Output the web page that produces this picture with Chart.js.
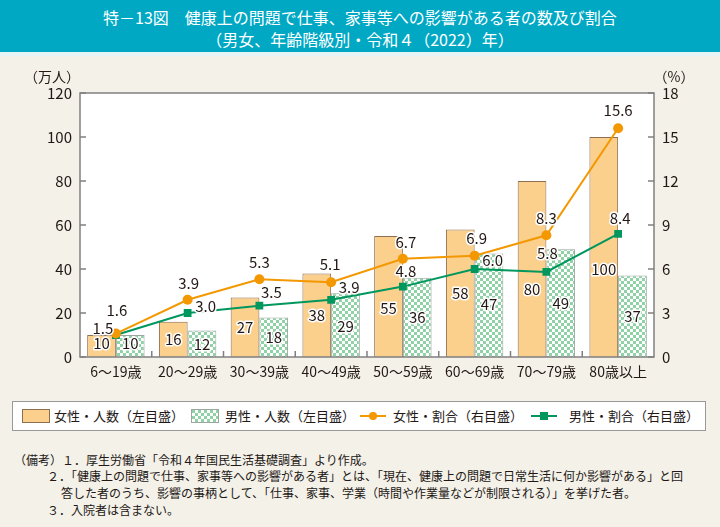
<!DOCTYPE html>
<html lang="ja">
<head>
<meta charset="utf-8">
<script src="https://cdn.jsdelivr.net/npm/chart.js@4"></script>
<style>
  body { margin: 0; width: 720px; height: 527px; background: #f4f1e9; font-family: "Noto Sans CJK JP", "Noto Sans", sans-serif; color: #231815; position: relative; overflow: hidden; }
  #title { position: absolute; left: 0; top: 0; width: 720px; background: #00a8c4; color: #fff; text-align: center; font-size: 16px; line-height: 22px; padding-top: 6px; box-sizing: border-box; border-bottom: 4px solid #e6f4f6; height: 56px; }
  #wrap { position: absolute; left: 0; top: 56px; width: 720px; height: 334px; }
  #legend { position: absolute; left: 12px; top: 401px; width: 694px; height: 30px; background: #fff; border: 1px solid #999; box-sizing: border-box; font-size: 13px; }
  .item { position: absolute; top: 5px; line-height: 18px; white-space: nowrap; }
  .sw { position: absolute; top: 7px; width: 28px; height: 14px; box-sizing: border-box; }
  .ln { position: absolute; top: 13px; width: 26px; height: 2px; }
  .mk { position: absolute; }
  #notes { position: absolute; left: 0; top: 452px; font-size: 12px; line-height: 16px; }
  #notes div { position: absolute; white-space: nowrap; }
</style>
</head>
<body>
<div id="title">特－13図　健康上の問題で仕事、家事等への影響がある者の数及び割合<br>（男女、年齢階級別・令和４（2022）年）</div>
<div id="wrap"><canvas id="chart"></canvas></div>
<div id="legend">
  <div class="sw" style="left:9px;background:#fbcf8c;border:1px solid #8c6e50;"></div>
  <div class="item" style="left:41px;">女性・人数（左目盛）</div>
  <div class="sw" id="malesw" style="left:178px;border:1px solid #9aa69e;"></div>
  <div class="item" style="left:212px;">男性・人数（左目盛）</div>
  <div class="ln" style="left:347px;background:#f39800;"></div>
  <div class="mk" style="left:356px;top:10px;width:8px;height:8px;border-radius:50%;background:#f39800;"></div>
  <div class="item" style="left:380px;">女性・割合（右目盛）</div>
  <div class="ln" style="left:518px;background:#00975f;"></div>
  <div class="mk" style="left:527px;top:10px;width:8px;height:8px;background:#00975f;"></div>
  <div class="item" style="left:556px;">男性・割合（右目盛）</div>
</div>
<div id="notes">
  <div style="left:14px;top:0;">（備考）１．厚生労働省「令和４年国民生活基礎調査」より作成。</div>
  <div style="left:47px;top:16px;">２．「健康上の問題で仕事、家事等への影響がある者」とは、「現在、健康上の問題で日常生活に何か影響がある」と回</div>
  <div style="left:61px;top:33px;">答した者のうち、影響の事柄として、「仕事、家事、学業（時間や作業量などが制限される）」を挙げた者。</div>
  <div style="left:47px;top:50px;">３．入院者は含まない。</div>
</div>
<script>
// ====== データ ======
const categories = ["6～19歳", "20～29歳", "30～39歳", "40～49歳", "50～59歳", "60～69歳", "70～79歳", "80歳以上"];
const femaleCount = [10, 16, 27, 38, 55, 58, 80, 100];
const maleCount   = [10, 12, 18, 29, 36, 47, 49, 37];
const femaleRate  = [1.6, 3.9, 5.3, 5.1, 6.7, 6.9, 8.3, 15.6];
const maleRate    = [1.5, 3.0, 3.5, 3.9, 4.8, 6.0, 5.8, 8.4];
const leftTicks   = [0, 20, 40, 60, 80, 100, 120];
const rightTicks  = [0, 3, 6, 9, 12, 15, 18];

// ラベル位置（左目盛の値で指定）
const femaleLabelAt = [6.4, 8.2, 13.6, 19, 22, 29, 31, 40];
const maleLabelAt   = [6.4, 5.9, 9.1, 14.1, 18.2, 24.1, 24.5, 18.6];
// 割合ラベルのずれ（px）
const femaleRateDx = [1, 1, 0, -1, 3, 2, 0, 0];
const femaleRateDy = [-23, -17, -17, -18, -16, -18, -17, -18];
const maleRateDx   = [-13, 18, 12, 18, 3, 18, 1, 2];
const maleRateDy   = [-7, -7, -13, -13, -15, -9, -19, -16];

const ORANGE = "#f39800";
const GREEN  = "#00975f";
const INK    = "#231815";
const FONT   = '"Noto Sans CJK JP", "Noto Sans", sans-serif';

// 男性のチェック柄
function makeChecker() {
  const c = document.createElement("canvas");
  c.width = 6; c.height = 6;
  const g = c.getContext("2d");
  g.fillStyle = "#ffffff"; g.fillRect(0, 0, 6, 6);
  g.fillStyle = "#8fd2a5";
  g.fillRect(0, 0, 3, 3); g.fillRect(3, 3, 3, 3);
  return c;
}
const checker = makeChecker();
document.getElementById("malesw").style.background = "url(" + checker.toDataURL() + ")";

// ====== 描画用プラグイン ======
const framePlugin = {
  id: "frame",
  beforeDatasetsDraw(chart) {
    const { ctx, chartArea: a } = chart;
    ctx.save();
    ctx.fillStyle = "#fff";
    ctx.fillRect(a.left, a.top, a.right - a.left, a.bottom - a.top);
    ctx.restore();
  },
  afterDatasetsDraw(chart) {
    const { ctx, chartArea: a, scales } = chart;
    ctx.save();
    ctx.strokeStyle = "#808080";
    ctx.lineWidth = 1.5;
    ctx.strokeRect(a.left, a.top, a.right - a.left, a.bottom - a.top);
    // 内向きの目盛線
    ctx.beginPath();
    leftTicks.forEach(v => {
      const y = scales.y.getPixelForValue(v);
      ctx.moveTo(a.left, y); ctx.lineTo(a.left + 6, y);
    });
    rightTicks.forEach(v => {
      const y = scales.y2.getPixelForValue(v);
      ctx.moveTo(a.right, y); ctx.lineTo(a.right - 6, y);
    });
    const step = (a.right - a.left) / categories.length;
    for (let i = 1; i < categories.length; i++) {
      const x = a.left + step * i;
      ctx.moveTo(x, a.bottom); ctx.lineTo(x, a.bottom - 6);
    }
    ctx.stroke();

    // 軸の単位
    ctx.fillStyle = INK;
    ctx.font = "14px " + FONT;
    ctx.textBaseline = "middle";
    ctx.textAlign = "center";
    ctx.fillText("（万人）", 52, 21);
    ctx.fillText("（%）", 674, 21);

    // 数値ラベル
    ctx.font = "15px " + FONT;
    ctx.lineJoin = "round";
    function label(text, x, y) {
      ctx.strokeStyle = "#fff";
      ctx.lineWidth = 3;
      ctx.strokeText(text, x, y);
      ctx.fillStyle = INK;
      ctx.fillText(text, x, y);
    }
    const mF = chart.getDatasetMeta(0), mM = chart.getDatasetMeta(1);
    const lF = chart.getDatasetMeta(2), lM = chart.getDatasetMeta(3);
    categories.forEach((c, i) => {
      label(String(femaleCount[i]), mF.data[i].x, scales.y.getPixelForValue(femaleLabelAt[i]));
      label(String(maleCount[i]), mM.data[i].x, scales.y.getPixelForValue(maleLabelAt[i]));
      label(femaleRate[i].toFixed(1), lF.data[i].x + femaleRateDx[i], lF.data[i].y + femaleRateDy[i]);
      label(maleRate[i].toFixed(1), lM.data[i].x + maleRateDx[i], lM.data[i].y + maleRateDy[i]);
    });
    ctx.restore();
  }
};

// ====== グラフ ======
new Chart(document.getElementById("chart"), {
  data: {
    labels: categories,
    datasets: [
      { type: "bar", label: "女性・人数（左目盛）", data: femaleCount, yAxisID: "y",
        backgroundColor: "#fbcf8c", borderColor: "#8c6e50", borderWidth: 1,
        barPercentage: 1, categoryPercentage: 0.8, order: 2 },
      { type: "bar", label: "男性・人数（左目盛）", data: maleCount, yAxisID: "y",
        backgroundColor: ctx => ctx.chart.ctx.createPattern(checker, "repeat"),
        borderColor: "#9aa69e", borderWidth: 1,
        barPercentage: 1, categoryPercentage: 0.8, order: 2 },
      { type: "line", label: "女性・割合（右目盛）", data: femaleRate, yAxisID: "y2",
        borderColor: ORANGE, backgroundColor: ORANGE, borderWidth: 2,
        pointStyle: "circle", pointRadius: 5, pointBorderWidth: 0, tension: 0, order: 1 },
      { type: "line", label: "男性・割合（右目盛）", data: maleRate, yAxisID: "y2",
        borderColor: GREEN, backgroundColor: GREEN, borderWidth: 2,
        pointStyle: "rect", pointRadius: 5.5, pointBorderWidth: 0, tension: 0, order: 1 }
    ]
  },
  options: {
    responsive: true,
    maintainAspectRatio: false,
    animation: false,
    layout: { padding: { top: 37, left: 0, right: 0, bottom: 0 } },
    plugins: { legend: { display: false }, tooltip: { enabled: false } },
    scales: {
      x: {
        grid: { display: false, drawTicks: false },
        border: { display: false },
        ticks: { color: INK, font: { family: FONT, size: 14 }, padding: 6, maxRotation: 0, autoSkip: false },
        afterFit(s) { s.height = 33; }
      },
      y: {
        position: "left", min: 0, max: 120,
        afterBuildTicks(s) { s.ticks = leftTicks.map(v => ({ value: v })); },
        grid: { display: false, drawTicks: false },
        border: { display: false },
        ticks: { color: INK, font: { family: FONT, size: 15 }, padding: 8 },
        afterFit(s) { s.width = 80; }
      },
      y2: {
        position: "right", min: 0, max: 18,
        afterBuildTicks(s) { s.ticks = rightTicks.map(v => ({ value: v })); },
        grid: { display: false, drawTicks: false },
        border: { display: false },
        ticks: { color: INK, font: { family: FONT, size: 15 }, padding: 8 },
        afterFit(s) { s.width = 66; }
      }
    }
  },
  plugins: [framePlugin]
});
</script>
</body>
</html>
